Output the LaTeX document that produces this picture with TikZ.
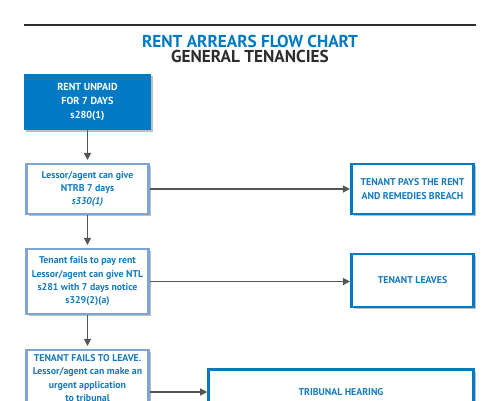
\documentclass[tikz,border=0pt]{standalone}
\usepackage{fontspec}
\setmainfont{PT Sans}
\usepackage{xcolor}
\usetikzlibrary{arrows.meta, shadows}

\definecolor{chartblue}{RGB}{0,122,194}
\definecolor{paleblue}{RGB}{128,164,212}
\definecolor{textblue}{RGB}{22,122,190}
\definecolor{rulegray}{RGB}{45,45,45}
\definecolor{arrowgray}{RGB}{85,85,85}

\tikzset{
  boxshadow/.style={drop shadow={shadow xshift=1.3pt, shadow yshift=-1.3pt, opacity=0.25, fill=black}},
  stepbox/.style={draw=paleblue, line width=1.6pt, fill=white, text=textblue,
    font=\fontsize{5.6}{7.6}\selectfont\bfseries, align=center, inner sep=0pt,
    minimum width=2.45cm, boxshadow},
  outcome/.style={stepbox, draw=chartblue, line width=1.5pt},
  flow/.style={arrowgray, line width=0.7pt, -{Triangle[width=4pt,length=4pt]}},
  heading/.style={font=\fontsize{9.8}{10}\selectfont\bfseries},
}

\begin{document}
\begin{tikzpicture}[x=0.02cm, y=-0.02cm]
  \clip (0,0) rectangle (500,400);

  % Heading
  \draw[rulegray, line width=1.5pt] (24,25) -- (476,25);
  \node[heading, text=chartblue] (title) at (250,41) {RENT ARREARS FLOW CHART};
  \node[heading, text=rulegray] (subtitle) at (250,56) {GENERAL TENANCIES};

  % Left column
  \node[fill=chartblue, text=white, font=\fontsize{5.8}{7.8}\selectfont\bfseries, align=center,
    minimum width=2.54cm, minimum height=1.12cm, inner sep=0pt, boxshadow] (unpaid) at (87.5,102)
    {RENT UNPAID\\FOR 7 DAYS\\s280(1)};
  \node[stepbox, minimum height=1.0cm] (ntrb) at (87.5,189)
    {Lessor/agent can give\\NTRB 7 days\\\textit{s330(1)}};
  \node[stepbox, minimum height=1.3cm] (ntl) at (87.5,281.5)
    {Tenant fails to pay rent\\Lessor/agent can give NTL\\s281 with 7 days notice\\s329(2)(a)};
  \node[stepbox, minimum height=1.12cm] (fails) at (87.5,378)
    {TENANT FAILS TO LEAVE.\\Lessor/agent can make an\\urgent application\\to tribunal};

  % Outcomes on the right
  \node[outcome, minimum height=1.0cm] (pays) at (412.5,189) {TENANT PAYS THE RENT\\AND REMEDIES BREACH};
  \node[outcome, minimum height=1.06cm] (leaves) at (412.5,280.5) {TENANT LEAVES};
  \node[outcome, minimum width=5.3cm, minimum height=0.9cm] (hearing) at (341,392) {TRIBUNAL HEARING};

  % Connectors
  \draw[flow, shorten >=1.5pt] (unpaid) -- (ntrb);
  \draw[flow, shorten >=1.5pt] (ntrb) -- (ntl);
  \draw[flow, shorten >=1.5pt] (ntl) -- (fails);
  \draw[flow] (ntrb) -- (pays);
  \draw[flow] (ntl.east) -- (ntl.east -| leaves.west);
  \draw[flow] (fails.east |- hearing.west) -- (hearing.west);
\end{tikzpicture}
\end{document}
